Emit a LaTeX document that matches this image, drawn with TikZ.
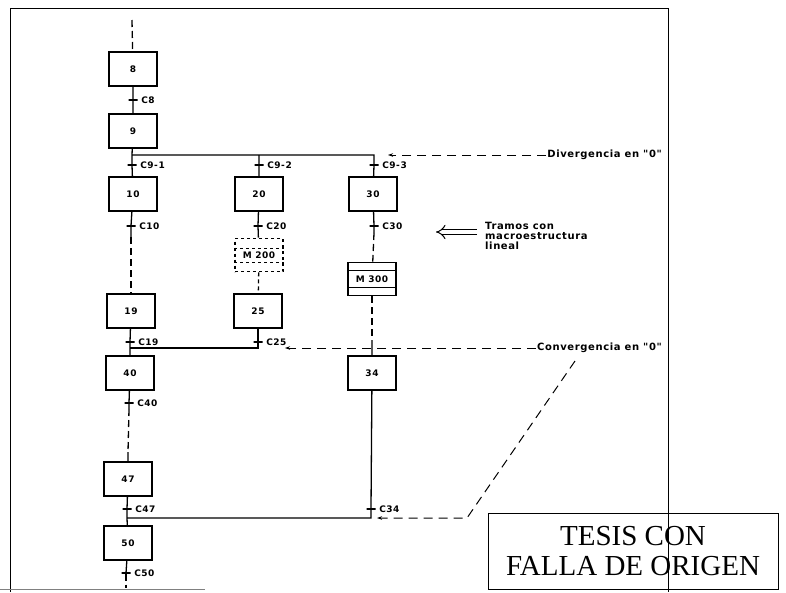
\documentclass[tikz,border=0pt]{standalone}
\usepackage{fontspec}
\newfontfamily\rotulo[LetterSpace=6]{DejaVu Sans}
\newfontfamily\sello{Liberation Serif}
\usetikzlibrary{arrows.meta}
\tikzset{
  etapa/.style={draw, line width=1.6pt, minimum width=48pt, minimum height=34pt, inner sep=0pt,
    font=\rotulo\bfseries\fontsize{9}{10}\selectfont},
  macro/.style={etapa, minimum height=33pt},
  trans/.style={draw, line width=1.2pt, minimum width=9pt, minimum height=0pt, inner sep=0pt},
  rot/.style={font=\rotulo\bfseries\fontsize{9}{10}\selectfont, inner sep=1pt},
  notatxt/.style={font=\rotulo\bfseries\fontsize{10}{10}\selectfont, inner sep=1pt},
  enlace/.style={line width=1.3pt},
  trazos/.style={enlace, dash pattern=on 7pt off 4pt},
  nota/.style={line width=1pt, dash pattern=on 9pt off 6pt, -{Stealth[length=5pt,width=3.5pt]}}
}
\begin{document}
\begin{tikzpicture}[x=1pt,y=-1pt, label distance=2pt]
  \useasboundingbox (0,0) rectangle (786,592);

  % Sello
  \node[draw, line width=1pt, minimum width=290pt, minimum height=76pt, align=center,
    font=\sello\fontsize{29}{30}\selectfont] (sello) at (633,551) {TESIS CON\\FALLA DE ORIGEN};

  % Marco
  \draw[line width=0.8pt] (10,592) -- (10,8) -- (668,8) -- (668,592);
  \draw[line width=0.8pt, gray] (0,589) -- (205,589);

  % Columna izquierda
  \coordinate (ini) at (132,20);
  \node[etapa] (e8) at (133,69) {8};
  \node[trans, label={[rot]right:C8}] (c8) at (133,100) {};
  \node[etapa] (e9) at (133,131) {9};
  \coordinate (div1) at (132,155);
  \node[trans, label={[rot]right:C9-1}] (c91) at (132,165) {};
  \node[etapa] (e10) at (133,194) {10};
  \node[trans, label={[rot]right:C10}] (c10) at (131,226) {};
  \coordinate (p10) at (131,237);
  \node[etapa] (e19) at (131,311) {19};
  \node[trans, label={[rot]right:C19}] (c19) at (130,342) {};
  \coordinate (conv1) at (130,348);
  \node[etapa] (e40) at (130,373) {40};
  \node[trans, label={[rot]right:C40}] (c40) at (129,403) {};
  \coordinate (p40) at (129,409);
  \coordinate (q40) at (128,452);
  \node[etapa] (e47) at (128,479) {47};
  \node[trans, label={[rot]right:C47}] (c47) at (127,509) {};
  \coordinate (conv4) at (127,518);
  \node[etapa] (e50) at (128,543) {50};
  \node[trans, label={[rot]right:C50}] (c50) at (126,573) {};
  \coordinate (fin) at (126,588);

  \draw[trazos] (ini) -- (e8);
  \draw[enlace] (e8) -- (c8) -- (e9) -- (div1) -- (c91) -- (e10) -- (c10) -- (p10);
  \draw[trazos] (p10) -- (e19);
  \draw[enlace] (e19) -- (c19) -- (conv1) -- (e40) -- (c40) -- (p40);
  \draw[trazos] (p40) -- (q40);
  \draw[enlace] (q40) -- (e47) -- (c47) -- (conv4) -- (e50) -- (c50);
  \draw[trazos] (c50) -- (fin);

  % Columna central
  \coordinate (div2) at (259,155);
  \node[trans, label={[rot]right:C9-2}] (c92) at (259,165) {};
  \node[etapa] (e20) at (259,194) {20};
  \node[trans, label={[rot]right:C20}] (c20) at (258,226) {};
  \node[macro, dashed] (m200) at (259,255) {M 200};
  \draw[line width=1.2pt, dashed] ([yshift=-11pt]m200.north west) -- ([yshift=-11pt]m200.north east)
    ([yshift=10pt]m200.south west) -- ([yshift=10pt]m200.south east);
  \node[etapa] (e25) at (258,311) {25};
  \node[trans, label={[rot]right:C25}] (c25) at (258,342) {};
  \coordinate (conv2) at (258,348);

  \draw[enlace] (div2) -- (c92) -- (e20) -- (c20) -- (m200);
  \draw[enlace, dash pattern=on 4pt off 3pt] (m200) -- (e25);
  \draw[enlace] (e25) -- (c25) -- (conv2) -- (conv1);

  % Columna derecha
  \coordinate (div3) at (374,155);
  \node[trans, label={[rot]right:C9-3}] (c93) at (374,165) {};
  \node[etapa] (e30) at (373,194) {30};
  \node[trans, label={[rot]right:C30}] (c30) at (374,226) {};
  \coordinate (p30) at (374,233);
  \node[macro] (m300) at (372,279) {M 300};
  \draw[line width=1.2pt] ([yshift=-9pt]m300.north west) -- ([yshift=-9pt]m300.north east)
    ([yshift=9pt]m300.south west) -- ([yshift=9pt]m300.south east);
  \coordinate (p300) at (372,340);
  \node[etapa] (e34) at (372,373) {34};
  \node[trans, label={[rot]right:C34}] (c34) at (371,509) {};
  \coordinate (conv3) at (371,518);

  \draw[enlace] (div1) -- (div3) -- (c93) -- (e30) -- (c30) -- (p30);
  \draw[trazos] (p30) -- (m300);
  \draw[trazos] (m300) -- (p300);
  \draw[enlace] (p300) -- (e34) -- (c34) -- (conv3) -- (conv4);

  % Notas
  \node[notatxt, anchor=east] (divtxt) at (663,155) {Divergencia en "0"};
  \coordinate (divflecha) at (388,155);
  \draw[nota] (divtxt) -- (divflecha);

  \node[notatxt, anchor=east] (convtxt) at (663,348) {Convergencia en "0"};
  \coordinate (convflecha) at (285,348);
  \draw[nota] (convtxt) -- (convflecha);

  \coordinate (diagsup) at (575,361);
  \coordinate (codo) at (467,518);
  \coordinate (c34flecha) at (377,518);
  \draw[nota] (diagsup) -- (codo) -- (c34flecha);

  \node[notatxt, anchor=west, align=left] (tramos) at (484,236) {Tramos con\\macroestructura\\lineal};
  \coordinate (tramosp) at (436,232);
  \draw[line width=1pt, double distance=4pt, -{Implies}] ([xshift=-7pt,yshift=4pt]tramos.west) -- (tramosp);
\end{tikzpicture}
\end{document}
